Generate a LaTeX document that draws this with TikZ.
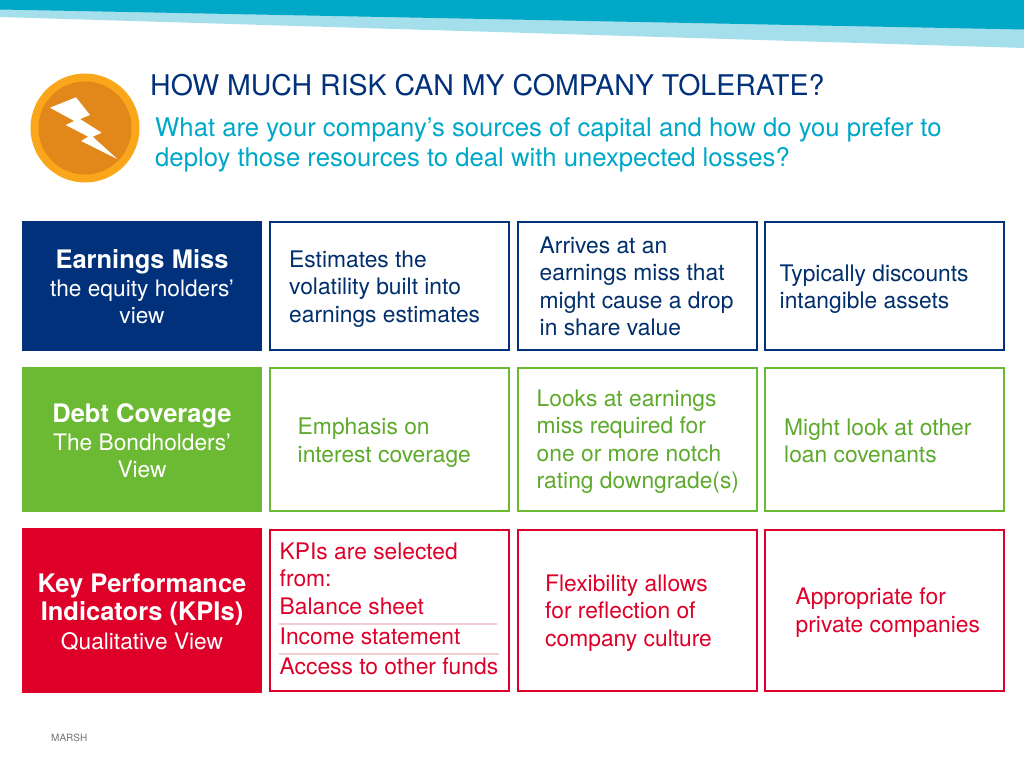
\documentclass[tikz,border=0pt]{standalone}
\usepackage{fontspec}
\setmainfont{TeX Gyre Heros}
\definecolor{cteal}{HTML}{00A8C8}
\definecolor{lteal}{HTML}{A6DFEC}
\definecolor{navy}{HTML}{00317A}
\definecolor{cgreen}{HTML}{6CB934}
\definecolor{cred}{HTML}{DE0029}
\definecolor{bodyc}{HTML}{002F6C}
\definecolor{greent}{HTML}{5DAA2C}
\definecolor{ring}{HTML}{FAA61A}
\definecolor{disc}{HTML}{E2871A}
\definecolor{rule}{HTML}{F3CDD2}
\tikzset{
  cell/.style={draw=#1,line width=2pt,fill=white,anchor=north west,inner sep=0pt,minimum width=239pt,minimum height=128pt},
  head/.style={draw=none,fill=#1,anchor=north west,inner sep=0pt,minimum width=240pt},
  txt/.style={anchor=west,inner sep=0pt,align=left,text=#1,font=\fontsize{22.8}{27.5}\selectfont},
  htxt/.style={anchor=center,inner sep=0pt,align=center,text=white,font=\fontsize{22.7}{27}\selectfont},
}
\begin{document}
\begin{tikzpicture}[x=1pt,y=-1pt]
\useasboundingbox (0,0) rectangle (1024,768);
\fill[white] (0,0) rectangle (1024,768);
\fill[lteal] (0,9) -- (1024,28) -- (1024,48) -- (0,17) -- cycle;
\fill[cteal] (0,0) -- (1024,0) -- (1024,29.5) -- (0,9.5) -- cycle;
% icon
\coordinate (iconc) at (85,128);
\fill[ring] (iconc) circle (54.5);
\fill[disc] (iconc) circle (46.5);
\fill[white] (50,107.7) -- (76,97.3) -- (90,115) -- (80,119) -- (101.7,132.7) -- (92.7,136.7) -- (117.3,159) -- (81,141) -- (88.3,136.7) -- (65.7,125) -- (74.3,121) -- cycle;
% title
\node[anchor=base west,inner sep=0pt,text=navy,font=\fontsize{28.5}{32}\selectfont] (title) at (150,95) {HOW MUCH RISK CAN MY COMPANY TOLERATE?};
\node[anchor=west,inner sep=0pt,align=left,text=cteal,font=\fontsize{25.7}{30.5}\selectfont] (sub) at (155,145) {What are your company’s sources of capital and how do you prefer to\\deploy those resources to deal with unexpected losses?};
% row 1
\node[head=navy,minimum height=130pt] (h1) at (22,220.5) {};
\node[htxt] (h1t) at (142,287) {{\bfseries\fontsize{25.5}{27}\selectfont Earnings Miss}\\[1pt]the equity holders’\\view};
\node[cell=navy] (c11) at (269,220.5) {};
\node[cell=navy] (c12) at (516.5,220.5) {};
\node[cell=navy] (c13) at (764,220.5) {};
\node[txt=bodyc] (t11) at (289,289) {Estimates the\\volatility built into\\earnings estimates};
\node[txt=bodyc] (t12) at (539.5,286.5) {Arrives at an\\earnings miss that\\might cause a drop\\in share value};
\node[txt=bodyc] (t13) at (779.5,289) {Typically discounts\\intangible assets};
% row 2
\node[head=cgreen,minimum height=145.5pt] (h2) at (22,366.5) {};
\node[htxt] (h2t) at (142,440.5) {{\bfseries\fontsize{25.5}{27}\selectfont Debt Coverage}\\[1pt]The Bondholders’\\View};
\node[cell=cgreen,minimum height=143.5pt] (c21) at (269,366.5) {};
\node[cell=cgreen,minimum height=143.5pt] (c22) at (516.5,366.5) {};
\node[cell=cgreen,minimum height=143.5pt] (c23) at (764,366.5) {};
\node[txt=greent] (t21) at (297.5,442.5) {Emphasis on\\interest coverage};
\node[txt=greent] (t22) at (536.5,441.5) {Looks at earnings\\miss required for\\one or more notch\\rating downgrade(s)};
\node[txt=greent] (t23) at (784,441) {Might look at other\\loan covenants};
% row 3
\node[head=cred,minimum height=165pt] (h3) at (22,528) {};
\node[htxt] (h3t) at (142,612.5) {{\bfseries\fontsize{25.5}{30}\selectfont Key Performance}\\[0.5pt]{\bfseries\fontsize{25.5}{30}\selectfont Indicators (KPIs)}\\[2pt]Qualitative View};
\node[cell=cred,minimum height=161.5pt] (c31) at (269,528.5) {};
\node[cell=cred,minimum height=161.5pt] (c32) at (516.5,528.5) {};
\node[cell=cred,minimum height=161.5pt] (c33) at (764,528.5) {};
\node[txt=cred] (t31a) at (279.5,565) {KPIs are selected\\from:};
\node[txt=cred] (t31b) at (279.5,606) {Balance sheet};
\node[txt=cred] (t31c) at (279.5,636.5) {Income statement};
\node[txt=cred] (t31d) at (279.5,666.5) {Access to other funds};
\coordinate (l1a) at (279,624);
\coordinate (l1b) at (497,624);
\coordinate (l2a) at (279,654);
\coordinate (l2b) at (499,654);
\draw[rule,line width=1.3pt] (l1a) -- (l1b);
\draw[rule,line width=1.3pt] (l2a) -- (l2b);
\node[txt=cred] (t32) at (545,613) {Flexibility allows\\for reflection of\\company culture};
\node[txt=cred] (t33) at (795.5,612.5) {Appropriate for\\private companies};
\node[anchor=base west,inner sep=0pt,text=black!55,font=\fontsize{10}{12}\selectfont] (marsh) at (51,741) {MARSH};
\end{tikzpicture}
\end{document}
